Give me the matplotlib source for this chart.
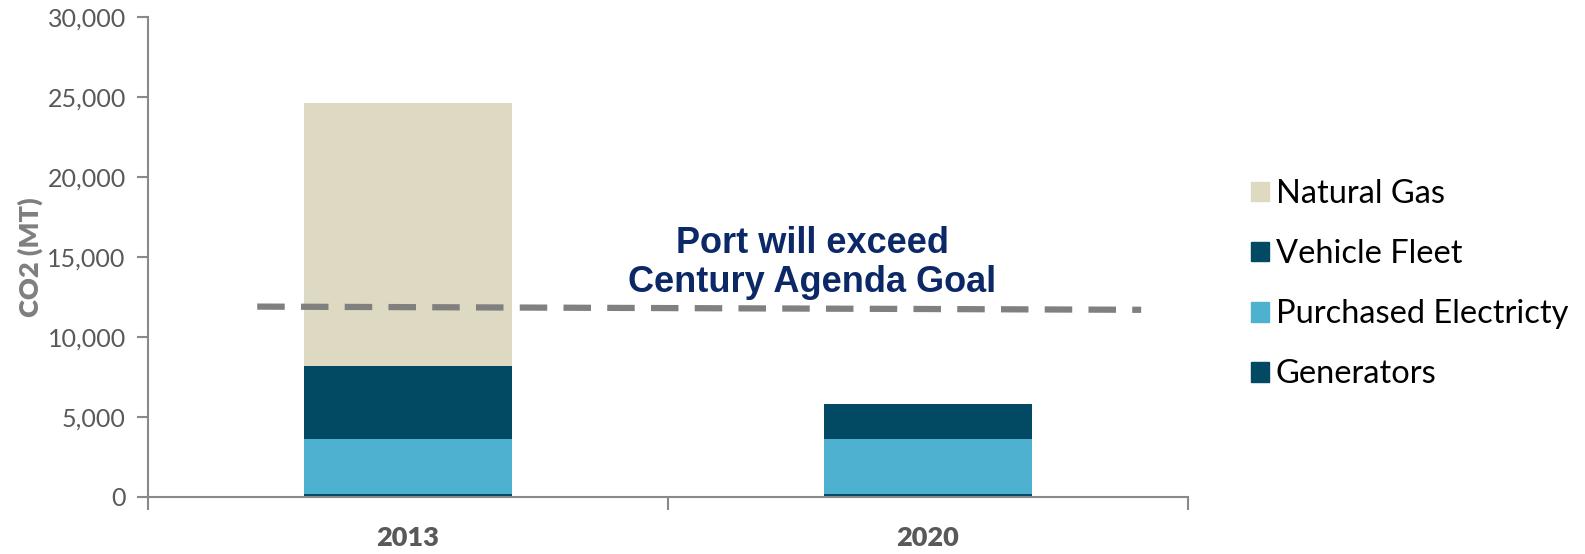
import matplotlib
matplotlib.use("Agg")
import matplotlib.pyplot as plt
import numpy as np
from matplotlib.patches import Patch

years = ["2013", "2020"]
generators = [200, 200]
purchased_electricity = [3450, 3450]
vehicle_fleet = [4550, 2180]
natural_gas = [16400, 0]
goal_line = [11900, 11700]
goal_x = [-0.29, 1.41]
yticks = [0, 5000, 10000, 15000, 20000, 25000, 30000]

c_gas = "#DDD9C3"
c_dark = "#024A63"
c_light = "#4FB1D0"

fig = plt.figure(figsize=(15.85, 5.54), dpi=100)
ax = fig.add_axes([0.0934, 0.1029, 0.7495 - 0.0934, 0.9693 - 0.1029])

x = np.arange(len(years))
w = 0.4
b1 = np.array(generators)
b2 = b1 + np.array(purchased_electricity)
b3 = b2 + np.array(vehicle_fleet)
ax.bar(x, generators, w, color=c_dark, zorder=2)
ax.bar(x, purchased_electricity, w, bottom=b1, color=c_light, zorder=2)
ax.bar(x, vehicle_fleet, w, bottom=b2, color=c_dark, zorder=2)
ax.bar(x, natural_gas, w, bottom=b3, color=c_gas, zorder=2)

ax.plot(goal_x, goal_line, color="#808080", lw=4.5, dashes=(4.4, 2.6), zorder=3,
        solid_capstyle="butt", dash_capstyle="butt")

ax.text(0.777, 14650, "Port will exceed\nCentury Agenda Goal", ha="center", va="center",
        fontsize=26, fontweight="bold", color="#0C2866", family="Liberation Sans",
        linespacing=1.15, zorder=4)

ax.set_xlim(-0.5, 1.5)
ax.set_ylim(0, 30000)
ax.set_yticks(yticks)
ax.set_yticklabels([f"{v:,}" for v in yticks], fontsize=18, color="#595959", family="Lato")
ax.set_xticks([-0.5, 0.5, 1.5])
ax.set_xticklabels([])
ax.set_xticks(x, minor=True)
ax.set_xticklabels(years, minor=True, fontsize=19.5, fontweight="heavy", color="#595959", family="Lato")
ax.tick_params(axis="x", which="minor", length=0, pad=21)
ax.tick_params(axis="x", which="major", length=9, color="#898989", width=1.5)
ax.tick_params(axis="y", length=8, color="#898989", width=1.5, pad=8)
for s in ["top", "right"]:
    ax.spines[s].set_visible(False)
for s in ["left", "bottom"]:
    ax.spines[s].set_color("#898989")
    ax.spines[s].set_linewidth(1.5)

ax.set_ylabel("CO2 (MT)", fontsize=19.5, fontweight="heavy", color="#7F7F7F", family="Lato", labelpad=3)

handles = [Patch(color=c_gas, label="Natural Gas"),
           Patch(color=c_dark, label="Vehicle Fleet"),
           Patch(color=c_light, label="Purchased Electricty"),
           Patch(color=c_dark, label="Generators")]
fig.legend(handles=handles, loc="center left", bbox_to_anchor=(0.771, 0.487), frameon=False,
           prop={"family": "Lato", "size": 23.5}, handlelength=0.55, handleheight=0.55,
           handletextpad=0.2, labelspacing=0.92)

fig.savefig("out.png", dpi=100)
